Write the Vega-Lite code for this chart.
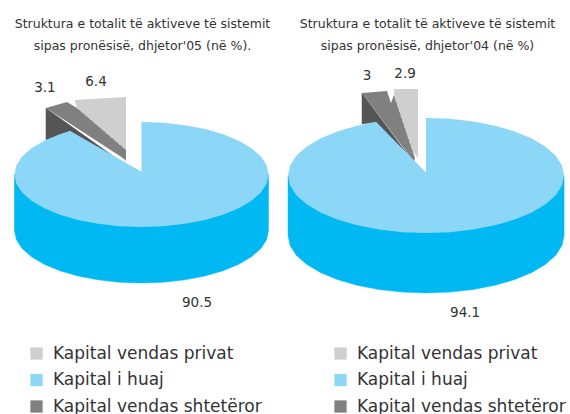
{
  "$schema": "https://vega.github.io/schema/vega-lite/v6.json",
  "padding": {"top": 18, "left": 0, "right": 0, "bottom": 0},
  "spacing": 0,
  "background": "white",
  "config": {
    "view": {"stroke": null},
    "concat": {"spacing": 0},
    "title": {"font": "DejaVu Sans", "fontSize": 12.5, "fontWeight": "normal", "color": "#333333", "lineHeight": 21.5, "anchor": "middle", "offset": 4},
    "legend": {"orient": "none", "title": null, "padding": 0, "symbolType": "square", "symbolSize": 150, "symbolStrokeWidth": 0, "labelFont": "DejaVu Sans", "labelFontSize": 17, "labelColor": "#333333", "labelOffset": 8, "rowPadding": 8.5, "labelLimit": 300}
  },
  "datasets": {
    "pie05": [
      {"part": "side", "category": "Kapital i huaj", "i": 0, "x": 1, "y": 0},
      {"part": "side", "category": "Kapital i huaj", "i": 1, "x": 1, "y": -1.067},
      {"part": "side", "category": "Kapital i huaj", "i": 2, "x": 0.985, "y": -1.241},
      {"part": "side", "category": "Kapital i huaj", "i": 3, "x": 0.94, "y": -1.409},
      {"part": "side", "category": "Kapital i huaj", "i": 4, "x": 0.866, "y": -1.567},
      {"part": "side", "category": "Kapital i huaj", "i": 5, "x": 0.766, "y": -1.71},
      {"part": "side", "category": "Kapital i huaj", "i": 6, "x": 0.643, "y": -1.833},
      {"part": "side", "category": "Kapital i huaj", "i": 7, "x": 0.5, "y": -1.933},
      {"part": "side", "category": "Kapital i huaj", "i": 8, "x": 0.342, "y": -2.007},
      {"part": "side", "category": "Kapital i huaj", "i": 9, "x": 0.174, "y": -2.052},
      {"part": "side", "category": "Kapital i huaj", "i": 10, "x": 0, "y": -2.067},
      {"part": "side", "category": "Kapital i huaj", "i": 11, "x": -0.174, "y": -2.052},
      {"part": "side", "category": "Kapital i huaj", "i": 12, "x": -0.342, "y": -2.007},
      {"part": "side", "category": "Kapital i huaj", "i": 13, "x": -0.5, "y": -1.933},
      {"part": "side", "category": "Kapital i huaj", "i": 14, "x": -0.643, "y": -1.833},
      {"part": "side", "category": "Kapital i huaj", "i": 15, "x": -0.766, "y": -1.71},
      {"part": "side", "category": "Kapital i huaj", "i": 16, "x": -0.866, "y": -1.567},
      {"part": "side", "category": "Kapital i huaj", "i": 17, "x": -0.94, "y": -1.409},
      {"part": "side", "category": "Kapital i huaj", "i": 18, "x": -0.985, "y": -1.241},
      {"part": "side", "category": "Kapital i huaj", "i": 19, "x": -1, "y": -1.067},
      {"part": "side", "category": "Kapital i huaj", "i": 20, "x": -1, "y": 0},

      {"part": "shade", "category": "Kapital vendas shtetëror", "i": 0, "x": -0.752, "y": 1.267},
      {"part": "shade", "category": "Kapital vendas shtetëror", "i": 1, "x": -0.752, "y": 0.657},
      {"part": "shade", "category": "Kapital vendas shtetëror", "i": 2, "x": -0.563, "y": 0.829},
      {"part": "shade", "category": "Kapital vendas shtetëror", "i": 3, "x": -0.122, "y": 0.181},

      {"part": "top", "category": "Kapital vendas privat", "i": 0, "x": -0.122, "y": 0.238},
      {"part": "top", "category": "Kapital vendas privat", "i": 1, "x": -0.122, "y": 1.476},
      {"part": "top", "category": "Kapital vendas privat", "i": 2, "x": -0.327, "y": 1.448},
      {"part": "top", "category": "Kapital vendas privat", "i": 3, "x": -0.524, "y": 1.419},
      {"part": "top", "category": "Kapital vendas privat", "i": 4, "x": -0.508, "y": 1.267},

      {"part": "top", "category": "Kapital vendas shtetëror", "i": 0, "x": -0.752, "y": 1.267},
      {"part": "top", "category": "Kapital vendas shtetëror", "i": 1, "x": -0.587, "y": 1.381},
      {"part": "top", "category": "Kapital vendas shtetëror", "i": 2, "x": -0.508, "y": 1.267},
      {"part": "top", "category": "Kapital vendas shtetëror", "i": 3, "x": -0.122, "y": 0.467},
      {"part": "top", "category": "Kapital vendas shtetëror", "i": 4, "x": -0.122, "y": 0.276},

      {"part": "seam", "category": "Kapital vendas shtetëror", "i": 0, "x": -0.508, "y": 1.267},
      {"part": "seam", "category": "Kapital vendas shtetëror", "i": 1, "x": -0.122, "y": 0.467},

      {"part": "face", "category": "Kapital i huaj", "i": 0, "x": 0, "y": 0.05},
      {"part": "face", "category": "Kapital i huaj", "i": 1, "x": 0, "y": 1},
      {"part": "face", "category": "Kapital i huaj", "i": 2, "x": 0.174, "y": 0.985},
      {"part": "face", "category": "Kapital i huaj", "i": 3, "x": 0.342, "y": 0.94},
      {"part": "face", "category": "Kapital i huaj", "i": 4, "x": 0.5, "y": 0.866},
      {"part": "face", "category": "Kapital i huaj", "i": 5, "x": 0.643, "y": 0.766},
      {"part": "face", "category": "Kapital i huaj", "i": 6, "x": 0.766, "y": 0.643},
      {"part": "face", "category": "Kapital i huaj", "i": 7, "x": 0.866, "y": 0.5},
      {"part": "face", "category": "Kapital i huaj", "i": 8, "x": 0.94, "y": 0.342},
      {"part": "face", "category": "Kapital i huaj", "i": 9, "x": 0.985, "y": 0.174},
      {"part": "face", "category": "Kapital i huaj", "i": 10, "x": 1, "y": 0},
      {"part": "face", "category": "Kapital i huaj", "i": 11, "x": 0.985, "y": -0.174},
      {"part": "face", "category": "Kapital i huaj", "i": 12, "x": 0.94, "y": -0.342},
      {"part": "face", "category": "Kapital i huaj", "i": 13, "x": 0.866, "y": -0.5},
      {"part": "face", "category": "Kapital i huaj", "i": 14, "x": 0.766, "y": -0.643},
      {"part": "face", "category": "Kapital i huaj", "i": 15, "x": 0.643, "y": -0.766},
      {"part": "face", "category": "Kapital i huaj", "i": 16, "x": 0.5, "y": -0.866},
      {"part": "face", "category": "Kapital i huaj", "i": 17, "x": 0.342, "y": -0.94},
      {"part": "face", "category": "Kapital i huaj", "i": 18, "x": 0.174, "y": -0.985},
      {"part": "face", "category": "Kapital i huaj", "i": 19, "x": 0, "y": -1},
      {"part": "face", "category": "Kapital i huaj", "i": 20, "x": -0.174, "y": -0.985},
      {"part": "face", "category": "Kapital i huaj", "i": 21, "x": -0.342, "y": -0.94},
      {"part": "face", "category": "Kapital i huaj", "i": 22, "x": -0.5, "y": -0.866},
      {"part": "face", "category": "Kapital i huaj", "i": 23, "x": -0.643, "y": -0.766},
      {"part": "face", "category": "Kapital i huaj", "i": 24, "x": -0.766, "y": -0.643},
      {"part": "face", "category": "Kapital i huaj", "i": 25, "x": -0.866, "y": -0.5},
      {"part": "face", "category": "Kapital i huaj", "i": 26, "x": -0.94, "y": -0.342},
      {"part": "face", "category": "Kapital i huaj", "i": 27, "x": -0.985, "y": -0.174},
      {"part": "face", "category": "Kapital i huaj", "i": 28, "x": -1, "y": 0},
      {"part": "face", "category": "Kapital i huaj", "i": 29, "x": -0.985, "y": 0.174},
      {"part": "face", "category": "Kapital i huaj", "i": 30, "x": -0.94, "y": 0.342},
      {"part": "face", "category": "Kapital i huaj", "i": 31, "x": -0.866, "y": 0.5},
      {"part": "face", "category": "Kapital i huaj", "i": 32, "x": -0.766, "y": 0.643},
      {"part": "face", "category": "Kapital i huaj", "i": 33, "x": -0.643, "y": 0.766},
      {"part": "face", "category": "Kapital i huaj", "i": 34, "x": -0.562, "y": 0.827},
      {"part": "face", "category": "Kapital i huaj", "i": 35, "x": 0, "y": 0.05},

      {"part": "label", "category": "Kapital i huaj", "value": 90.5, "i": 0, "x": 0.437, "y": -2.448},
      {"part": "label", "category": "Kapital vendas shtetëror", "value": 3.1, "i": 0, "x": -0.76, "y": 1.648},
      {"part": "label", "category": "Kapital vendas privat", "value": 6.4, "i": 0, "x": -0.358, "y": 1.762}
    ],
    "pie04": [
      {"part": "side", "category": "Kapital i huaj", "i": 0, "x": 1, "y": 0},
      {"part": "side", "category": "Kapital i huaj", "i": 1, "x": 1, "y": -1.043},
      {"part": "side", "category": "Kapital i huaj", "i": 2, "x": 0.985, "y": -1.217},
      {"part": "side", "category": "Kapital i huaj", "i": 3, "x": 0.94, "y": -1.385},
      {"part": "side", "category": "Kapital i huaj", "i": 4, "x": 0.866, "y": -1.543},
      {"part": "side", "category": "Kapital i huaj", "i": 5, "x": 0.766, "y": -1.686},
      {"part": "side", "category": "Kapital i huaj", "i": 6, "x": 0.643, "y": -1.809},
      {"part": "side", "category": "Kapital i huaj", "i": 7, "x": 0.5, "y": -1.909},
      {"part": "side", "category": "Kapital i huaj", "i": 8, "x": 0.342, "y": -1.983},
      {"part": "side", "category": "Kapital i huaj", "i": 9, "x": 0.174, "y": -2.028},
      {"part": "side", "category": "Kapital i huaj", "i": 10, "x": 0, "y": -2.043},
      {"part": "side", "category": "Kapital i huaj", "i": 11, "x": -0.174, "y": -2.028},
      {"part": "side", "category": "Kapital i huaj", "i": 12, "x": -0.342, "y": -1.983},
      {"part": "side", "category": "Kapital i huaj", "i": 13, "x": -0.5, "y": -1.909},
      {"part": "side", "category": "Kapital i huaj", "i": 14, "x": -0.643, "y": -1.809},
      {"part": "side", "category": "Kapital i huaj", "i": 15, "x": -0.766, "y": -1.686},
      {"part": "side", "category": "Kapital i huaj", "i": 16, "x": -0.866, "y": -1.543},
      {"part": "side", "category": "Kapital i huaj", "i": 17, "x": -0.94, "y": -1.385},
      {"part": "side", "category": "Kapital i huaj", "i": 18, "x": -0.985, "y": -1.217},
      {"part": "side", "category": "Kapital i huaj", "i": 19, "x": -1, "y": -1.043},
      {"part": "side", "category": "Kapital i huaj", "i": 20, "x": -1, "y": 0},

      {"part": "shade", "category": "Kapital vendas shtetëror", "i": 0, "x": -0.464, "y": 1.435},
      {"part": "shade", "category": "Kapital vendas shtetëror", "i": 1, "x": -0.464, "y": 0.896},
      {"part": "shade", "category": "Kapital vendas shtetëror", "i": 2, "x": -0.362, "y": 0.932},
      {"part": "shade", "category": "Kapital vendas shtetëror", "i": 3, "x": -0.087, "y": 0.217},

      {"part": "top", "category": "Kapital vendas privat", "i": 0, "x": -0.058, "y": 0.304},
      {"part": "top", "category": "Kapital vendas privat", "i": 1, "x": -0.058, "y": 1.504},
      {"part": "top", "category": "Kapital vendas privat", "i": 2, "x": -0.232, "y": 1.504},
      {"part": "top", "category": "Kapital vendas privat", "i": 3, "x": -0.232, "y": 1.4},
      {"part": "top", "category": "Kapital vendas privat", "i": 4, "x": -0.094, "y": 0.409},

      {"part": "top", "category": "Kapital vendas shtetëror", "i": 0, "x": -0.464, "y": 1.435},
      {"part": "top", "category": "Kapital vendas shtetëror", "i": 1, "x": -0.283, "y": 1.47},
      {"part": "top", "category": "Kapital vendas shtetëror", "i": 2, "x": -0.254, "y": 1.261},
      {"part": "top", "category": "Kapital vendas shtetëror", "i": 3, "x": -0.232, "y": 1.4},
      {"part": "top", "category": "Kapital vendas shtetëror", "i": 4, "x": -0.08, "y": 0.304},
      {"part": "top", "category": "Kapital vendas shtetëror", "i": 5, "x": -0.087, "y": 0.235},

      {"part": "seam", "category": "Kapital vendas shtetëror", "i": 0, "x": -0.232, "y": 1.4},
      {"part": "seam", "category": "Kapital vendas shtetëror", "i": 1, "x": -0.08, "y": 0.304},

      {"part": "face", "category": "Kapital i huaj", "i": 0, "x": 0, "y": 0.05},
      {"part": "face", "category": "Kapital i huaj", "i": 1, "x": 0, "y": 1},
      {"part": "face", "category": "Kapital i huaj", "i": 2, "x": 0.174, "y": 0.985},
      {"part": "face", "category": "Kapital i huaj", "i": 3, "x": 0.342, "y": 0.94},
      {"part": "face", "category": "Kapital i huaj", "i": 4, "x": 0.5, "y": 0.866},
      {"part": "face", "category": "Kapital i huaj", "i": 5, "x": 0.643, "y": 0.766},
      {"part": "face", "category": "Kapital i huaj", "i": 6, "x": 0.766, "y": 0.643},
      {"part": "face", "category": "Kapital i huaj", "i": 7, "x": 0.866, "y": 0.5},
      {"part": "face", "category": "Kapital i huaj", "i": 8, "x": 0.94, "y": 0.342},
      {"part": "face", "category": "Kapital i huaj", "i": 9, "x": 0.985, "y": 0.174},
      {"part": "face", "category": "Kapital i huaj", "i": 10, "x": 1, "y": 0},
      {"part": "face", "category": "Kapital i huaj", "i": 11, "x": 0.985, "y": -0.174},
      {"part": "face", "category": "Kapital i huaj", "i": 12, "x": 0.94, "y": -0.342},
      {"part": "face", "category": "Kapital i huaj", "i": 13, "x": 0.866, "y": -0.5},
      {"part": "face", "category": "Kapital i huaj", "i": 14, "x": 0.766, "y": -0.643},
      {"part": "face", "category": "Kapital i huaj", "i": 15, "x": 0.643, "y": -0.766},
      {"part": "face", "category": "Kapital i huaj", "i": 16, "x": 0.5, "y": -0.866},
      {"part": "face", "category": "Kapital i huaj", "i": 17, "x": 0.342, "y": -0.94},
      {"part": "face", "category": "Kapital i huaj", "i": 18, "x": 0.174, "y": -0.985},
      {"part": "face", "category": "Kapital i huaj", "i": 19, "x": 0, "y": -1},
      {"part": "face", "category": "Kapital i huaj", "i": 20, "x": -0.174, "y": -0.985},
      {"part": "face", "category": "Kapital i huaj", "i": 21, "x": -0.342, "y": -0.94},
      {"part": "face", "category": "Kapital i huaj", "i": 22, "x": -0.5, "y": -0.866},
      {"part": "face", "category": "Kapital i huaj", "i": 23, "x": -0.643, "y": -0.766},
      {"part": "face", "category": "Kapital i huaj", "i": 24, "x": -0.766, "y": -0.643},
      {"part": "face", "category": "Kapital i huaj", "i": 25, "x": -0.866, "y": -0.5},
      {"part": "face", "category": "Kapital i huaj", "i": 26, "x": -0.94, "y": -0.342},
      {"part": "face", "category": "Kapital i huaj", "i": 27, "x": -0.985, "y": -0.174},
      {"part": "face", "category": "Kapital i huaj", "i": 28, "x": -1, "y": 0},
      {"part": "face", "category": "Kapital i huaj", "i": 29, "x": -0.985, "y": 0.174},
      {"part": "face", "category": "Kapital i huaj", "i": 30, "x": -0.94, "y": 0.342},
      {"part": "face", "category": "Kapital i huaj", "i": 31, "x": -0.866, "y": 0.5},
      {"part": "face", "category": "Kapital i huaj", "i": 32, "x": -0.766, "y": 0.643},
      {"part": "face", "category": "Kapital i huaj", "i": 33, "x": -0.643, "y": 0.766},
      {"part": "face", "category": "Kapital i huaj", "i": 34, "x": -0.5, "y": 0.866},
      {"part": "face", "category": "Kapital i huaj", "i": 35, "x": -0.362, "y": 0.932},
      {"part": "face", "category": "Kapital i huaj", "i": 36, "x": 0, "y": 0.05},

      {"part": "label", "category": "Kapital i huaj", "value": 94.1, "i": 0, "x": 0.283, "y": -2.391},
      {"part": "label", "category": "Kapital vendas shtetëror", "value": 3, "i": 0, "x": -0.428, "y": 1.73},
      {"part": "label", "category": "Kapital vendas privat", "value": 2.9, "i": 0, "x": -0.152, "y": 1.765}
    ]
  },
  "hconcat": [
    {
      "width": 285,
      "height": 358,
      "title": {"text": ["Struktura e totalit të aktiveve të sistemit", "sipas pronësisë, dhjetor'05 (në %)."]},
      "data": {"name": "pie05"},
      "encoding": {
        "x": {"field": "x", "type": "quantitative", "axis": null, "scale": {"domain": [-1.114, 1.13], "nice": false, "zero": false}},
        "y": {"field": "y", "type": "quantitative", "axis": null, "scale": {"domain": [-4.562, 2.257], "nice": false, "zero": false}},
        "order": {"field": "i", "type": "quantitative"}
      },
      "layer": [
        {"transform": [{"filter": "datum.part === 'side'"}], "mark": {"type": "line", "fill": "#00B9F2", "stroke": "#00B9F2", "strokeWidth": 0.5}},
        {"transform": [{"filter": "datum.part === 'shade'"}], "mark": {"type": "line", "fill": "#555555", "stroke": "#555555", "strokeWidth": 0.5}},
        {
          "transform": [{"filter": "datum.part === 'top' || datum.part === 'face'"}],
          "mark": {"type": "line", "strokeWidth": 0},
          "encoding": {
            "fill": {"field": "category", "type": "nominal", "scale": {"domain": ["Kapital vendas privat", "Kapital i huaj", "Kapital vendas shtetëror"], "range": ["#CFCFCF", "#8CD6F8", "#808080"]}, "sort": null, "legend": {"legendX": 28, "legendY": 289}}
          }
        },
        {"transform": [{"filter": "datum.part === 'seam'"}], "mark": {"type": "line", "stroke": "#D8D8D8", "strokeWidth": 1, "strokeDash": [1.5, 4]}},
        {"transform": [{"filter": "datum.part === 'label'"}], "mark": {"type": "text", "font": "DejaVu Sans", "fontSize": 13.5, "color": "#333333"}, "encoding": {"text": {"field": "value", "type": "quantitative"}}}
      ]
    },
    {
      "width": 285,
      "height": 358,
      "title": {"text": ["Struktura e totalit të aktiveve të sistemit", "sipas pronësisë, dhjetor'04 (në %)"]},
      "data": {"name": "pie04"},
      "encoding": {
        "x": {"field": "x", "type": "quantitative", "axis": null, "scale": {"domain": [-1.022, 1.043], "nice": false, "zero": false}},
        "y": {"field": "y", "type": "quantitative", "axis": null, "scale": {"domain": [-4.148, 2.078], "nice": false, "zero": false}},
        "order": {"field": "i", "type": "quantitative"}
      },
      "layer": [
        {"transform": [{"filter": "datum.part === 'side'"}], "mark": {"type": "line", "fill": "#00B9F2", "stroke": "#00B9F2", "strokeWidth": 0.5}},
        {"transform": [{"filter": "datum.part === 'shade'"}], "mark": {"type": "line", "fill": "#555555", "stroke": "#555555", "strokeWidth": 0.5}},
        {
          "transform": [{"filter": "datum.part === 'top' || datum.part === 'face'"}],
          "mark": {"type": "line", "strokeWidth": 0},
          "encoding": {
            "fill": {"field": "category", "type": "nominal", "scale": {"domain": ["Kapital vendas privat", "Kapital i huaj", "Kapital vendas shtetëror"], "range": ["#CFCFCF", "#8CD6F8", "#808080"]}, "sort": null, "legend": {"legendX": 47, "legendY": 289}}
          }
        },
        {"transform": [{"filter": "datum.part === 'seam'"}], "mark": {"type": "line", "stroke": "#D8D8D8", "strokeWidth": 1, "strokeDash": [1.5, 4]}},
        {"transform": [{"filter": "datum.part === 'label'"}], "mark": {"type": "text", "font": "DejaVu Sans", "fontSize": 13.5, "color": "#333333"}, "encoding": {"text": {"field": "value", "type": "quantitative"}}}
      ]
    }
  ],
  "resolve": {"scale": {"fill": "independent", "x": "independent", "y": "independent"}}
}
